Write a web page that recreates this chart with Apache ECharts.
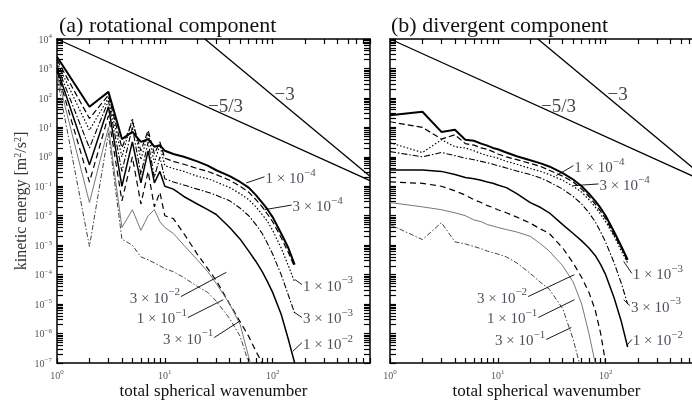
<!DOCTYPE html>
<html>
<head>
<meta charset="utf-8">
<script src="https://cdn.jsdelivr.net/npm/echarts@6/dist/echarts.min.js"></script>
<style>
html, body { margin: 0; padding: 0; background: #fff; }
#chart { width: 692px; height: 400px; }
</style>
</head>
<body>
<div id="chart"></div>
<script>
// total spherical wavenumber (shared grid for all curves)
var wavenumbers = [1, 2, 3, 4, 5, 6, 7, 8, 9, 10, 12, 15, 20, 25, 30, 40, 50, 60, 70, 80, 90, 100, 120, 140, 160];

// curve names
var curveNames = ['1e-4', '3e-4', '1e-3', '3e-3', '1e-2', '3e-2', '1e-1', '3e-1'];

// (a) rotational component, kinetic energy [m2/s2]
var rot1e4 = [2500, 50, 160, 4, 7, 3.2, 4, 2.2, 2.5, 1.6, 1.25, 1.0, 0.7, 0.5, 0.35, 0.22, 0.14, 0.09, 0.05, 0.028, 0.016, 0.009, 0.0025, 0.0008, 0.00022];
var rot3e4 = [2000, 20, 125, 2, 16, 1.6, 8, 1.25, 3.2, 0.9, 0.7, 0.56, 0.4, 0.32, 0.25, 0.16, 0.1, 0.063, 0.035, 0.02, 0.011, 0.0063, 0.0018, 0.00056, 0.00018];
var rot1e3 = [1600, 8, 100, 1, 20, 0.8, 6.3, 0.63, 2.5, 0.5, 0.4, 0.32, 0.22, 0.18, 0.14, 0.09, 0.056, 0.035, 0.02, 0.011, 0.0063, 0.0032, 0.0008, 0.0002, 0.000056];
var rot3e3 = [1250, 2, 80, 0.32, 10, 0.25, 3.2, 0.2, 1, 0.18, 0.14, 0.11, 0.08, 0.063, 0.05, 0.032, 0.018, 0.01, 0.005, 0.0025, 0.0011, 0.0005, 0.0001, 0.00002, 0.000005];
var rot1e2 = [1000, 0.54, 50, 0.1, 3.2, 0.13, 1.6, 0.13, 0.32, 0.1, 0.08, 0.045, 0.025, 0.016, 0.011, 0.004, 0.0016, 0.00063, 0.00028, 0.000126, 0.000056, 0.000025, 4.5e-6, 6.3e-7, 1e-7];
var rot3e2 = [800, 0.14, 25, 0.032, 1, 0.025, 0.32, 0.02, 0.063, 0.01, 0.008, 0.0025, 0.0005, 0.00016, 0.000063, 1e-5, 2.5e-6, 8e-7, 2.5e-7, 1e-7, 4e-8];
var rot1e1 = [630, 0.028, 10, 0.004, 0.016, 0.0032, 0.01, 0.016, 0.0063, 0.004, 0.0025, 0.001, 0.00032, 0.000126, 0.00005, 1e-5, 2e-6, 1.6e-7, 2.5e-8];
var rot3e1 = [500, 0.0009, 6.3, 0.0016, 0.001, 0.0004, 0.00032, 0.00025, 0.0002, 0.00016, 0.000126, 0.00008, 0.00004, 0.000025, 0.0000126, 3.2e-6, 8e-7, 1e-7, 1.6e-8];

// (b) divergent component, kinetic energy [m2/s2]
var div1e4 = [26, 34, 7, 8.3, 3.8, 3.5, 2.8, 2.4, 2, 1.8, 1.4, 1.05, 0.76, 0.6, 0.47, 0.28, 0.17, 0.1, 0.056, 0.032, 0.018, 0.01, 0.0028, 0.0009, 0.00032];
var div3e4 = [15.5, 10, 4, 5.6, 2.8, 2.5, 2, 1.8, 1.5, 1.25, 1, 0.8, 0.6, 0.47, 0.35, 0.22, 0.14, 0.08, 0.045, 0.025, 0.014, 0.008, 0.0022, 0.0008, 0.00028];
var div1e3 = [3, 1.4, 3.8, 2.2, 2, 1.6, 1.3, 1.1, 1, 0.9, 0.7, 0.56, 0.4, 0.32, 0.25, 0.16, 0.1, 0.063, 0.035, 0.02, 0.011, 0.0063, 0.002, 0.00063, 0.00025];
var div3e3 = [1.5, 1, 1.4, 1.1, 0.9, 0.8, 0.7, 0.63, 0.56, 0.5, 0.42, 0.33, 0.25, 0.19, 0.14, 0.08, 0.045, 0.025, 0.0126, 0.0063, 0.0028, 0.00126, 0.00025, 0.00005, 0.00001];
var div1e2 = [0.36, 0.36, 0.32, 0.25, 0.2, 0.18, 0.16, 0.14, 0.126, 0.11, 0.09, 0.056, 0.028, 0.019, 0.0126, 0.005, 0.0025, 0.0014, 0.0008, 0.00045, 0.00022, 0.0001, 1.6e-5, 2.5e-6, 3.5e-7];
var div3e2 = [0.14, 0.126, 0.1, 0.07, 0.05, 0.035, 0.028, 0.022, 0.019, 0.016, 0.0126, 0.009, 0.0056, 0.0035, 0.0025, 0.0008, 0.00025, 0.00008, 0.000025, 6.3e-6, 1e-6, 1e-7, 3e-9];
var div1e1 = [0.028, 0.02, 0.016, 0.0126, 0.01, 0.0072, 0.0063, 0.005, 0.0045, 0.004, 0.0034, 0.0028, 0.002, 0.0011, 0.00063, 0.0002, 0.000056, 1e-5, 1e-6, 1e-7, 1e-8];
var div3e1 = [0.005, 0.00155, 0.0058, 0.0013, 0.0011, 0.0009, 0.00076, 0.00063, 0.00056, 0.0005, 0.0004, 0.00025, 0.00011, 0.000054, 0.000032, 7e-6, 6.3e-7, 5e-8];

// reference slopes (same in both panels)
var slope53 = [[1, 10000], [800, 0.155]];
var slope3 = [[23.5, 10000], [800, 0.22]];

// tick labels
var xLabelValues = [1, 10, 100];
var yLabelValues = [1e-7, 1e-6, 1e-5, 1e-4, 1e-3, 1e-2, 1e-1, 1, 10, 100, 1000, 10000];

// annotation labels: mantissa, exponent, text side, leader line
var rotNotes = [
	{ m: '1', e: '−4', side: 'right', from: [57, 0.13], to: [84, 0.21] },
	{ m: '3', e: '−4', side: 'right', from: [84, 0.016], to: [150, 0.023] },
	{ m: '1', e: '−3', side: 'right', from: [161, 6.8e-5], to: [187, 4.6e-5] },
	{ m: '3', e: '−3', side: 'right', from: [161, 5.1e-6], to: [187, 3.5e-6] },
	{ m: '1', e: '−2', side: 'right', from: [154, 2.5e-7], to: [187, 4.9e-7] },
	{ m: '3', e: '−2', side: 'left', from: [37.2, 1.2e-4], to: [14.1, 1.8e-5] },
	{ m: '1', e: '−1', side: 'left', from: [34.8, 1.4e-5], to: [16.4, 3.5e-6] },
	{ m: '3', e: '−1', side: 'left', from: [49.2, 2.6e-6], to: [28.7, 7.3e-7] }
];
var divNotes = [
	{ m: '1', e: '−4', side: 'right', from: [34.8, 0.23], to: [50.2, 0.5] },
	{ m: '3', e: '−4', side: 'right', from: [50.2, 0.105], to: [86, 0.12] },
	{ m: '1', e: '−3', side: 'right', from: [147, 2.8e-4], to: [175, 1.1e-4] },
	{ m: '3', e: '−3', side: 'right', from: [147, 1.4e-5], to: [168, 8.9e-6] },
	{ m: '1', e: '−2', side: 'right', from: [157, 3.9e-7], to: [175, 6.3e-7] },
	{ m: '3', e: '−2', side: 'left', from: [51.3, 1e-4], to: [19.1, 1.8e-5] },
	{ m: '1', e: '−1', side: 'left', from: [51.3, 1.4e-5], to: [23.7, 3.5e-6] },
	{ m: '3', e: '−1', side: 'left', from: [48.1, 1.6e-6], to: [28.1, 6.3e-7] }
];
var slopeNotes = [
	{ text: '−5/3', at: [25.2, 49] },
	{ text: '−3', at: [104, 126] }
];

var SERIF = '"Liberation Serif", "DejaVu Serif", serif';

var curveStyles = [
	{ color: '#000', width: 2, type: 'solid' },
	{ color: '#000', width: 1.2, type: [6, 3] },
	{ color: '#000', width: 1.2, type: [1.5, 2] },
	{ color: '#000', width: 1.1, type: [6, 2, 1.5, 2] },
	{ color: '#000', width: 1.5, type: 'solid' },
	{ color: '#000', width: 1.2, type: [6, 4] },
	{ color: '#777', width: 1, type: 'solid' },
	{ color: '#444', width: 1, type: [5, 2, 1.5, 2] }
];

// tick positions 1..9 x 10^n
function decadeTicks(lo, hi, max) {
	var out = [];
	for (var e = lo; e <= hi; e++) {
		for (var d = 1; d <= 9; d++) {
			var v = d * Math.pow(10, e);
			if (v <= max * 1.0001) out.push(v);
		}
	}
	return out;
}
var xTickValues = decadeTicks(0, 2, 800);
var yTickValues = decadeTicks(-7, 4, 10000);

function powLabel(v) {
	var e = Math.round(Math.log10(v));
	return '{b|10}{s|' + (e < 0 ? '−' + (-e) : e) + '}';
}
var tickRich = {
	b: { fontFamily: SERIF, fontSize: 10, color: '#555', verticalAlign: 'bottom' },
	s: { fontFamily: SERIF, fontSize: 7, color: '#555', verticalAlign: 'bottom', padding: [0, 0, 5, 0] }
};
var noteRich = {
	t: { fontFamily: SERIF, fontSize: 15, color: '#223', verticalAlign: 'bottom' },
	s: { fontFamily: SERIF, fontSize: 11, color: '#223', verticalAlign: 'bottom', padding: [0, 0, 8, 0] }
};

function toPairs(vals) {
	return vals.map(function(v, i) { return [wavenumbers[i], v]; });
}

var grids = [
	{ left: 57, top: 39, width: 313, height: 324, outerBoundsMode: 'none' },
	{ left: 390, top: 39, width: 313, height: 324, outerBoundsMode: 'none' }
];

var xAxes = [], yAxes = [];
[0, 1].forEach(function(g) {
	['bottom', 'top'].forEach(function(pos) {
		xAxes.push({
			type: 'log', gridIndex: g, position: pos, min: 1, max: 800, logBase: 10,
			axisLine: { show: true, onZero: false, lineStyle: { color: '#000', width: 1.5 } },
			axisTick: { show: true, inside: true, length: 5, customValues: xTickValues, lineStyle: { color: '#000', width: 1.2 } },
			axisLabel: {
				show: pos === 'bottom', customValues: xLabelValues, margin: 6,
				formatter: powLabel, rich: tickRich
			},
			splitLine: { show: false },
			name: pos === 'bottom' ? 'total spherical wavenumber' : '',
			nameLocation: 'middle', nameGap: 20, nameMoveOverlap: false,
			nameTextStyle: { fontFamily: SERIF, fontSize: 17, color: '#111' }
		});
	});
	['left', 'right'].forEach(function(pos) {
		yAxes.push({
			type: 'log', gridIndex: g, position: pos, min: 1e-7, max: 1e4, logBase: 10,
			axisLine: { show: true, onZero: false, lineStyle: { color: '#000', width: 1.5 } },
			axisTick: { show: true, inside: true, length: 6, customValues: yTickValues, lineStyle: { color: '#000', width: 1.2 } },
			axisLabel: {
				show: pos === 'left' && g === 0, customValues: yLabelValues, margin: 5,
				formatter: powLabel, rich: tickRich
			},
			splitLine: { show: false },
			name: (pos === 'left' && g === 0) ? 'kinetic energy [m{s|2}/s{s|2}]' : '',
			nameLocation: 'middle', nameGap: 27, nameRotate: 90, nameMoveOverlap: false,
			nameTextStyle: {
				fontFamily: SERIF, fontSize: 16, color: '#333',
				rich: { s: { fontFamily: SERIF, fontSize: 10, color: '#333', verticalAlign: 'bottom', padding: [0, 0, 7, 0] } }
			}
		});
	});
});

var series = [];
function addPanel(g, curves, notes) {
	var xi = g * 2, yi = g * 2;
	curves.forEach(function(vals, i) {
		var st = curveStyles[i];
		series.push({
			name: curveNames[i], type: 'line', xAxisIndex: xi, yAxisIndex: yi,
			data: toPairs(vals), symbol: 'none', silent: true, clip: true,
			lineStyle: { color: st.color, width: st.width, type: st.type }
		});
	});
	[slope53, slope3].forEach(function(s) {
		series.push({
			type: 'line', xAxisIndex: xi, yAxisIndex: yi, data: s, symbol: 'none', silent: true,
			lineStyle: { color: '#000', width: 1.3 }
		});
	});
	notes.forEach(function(n) {
		series.push({
			type: 'line', xAxisIndex: xi, yAxisIndex: yi, data: [n.from, n.to], symbol: 'none', silent: true,
			lineStyle: { color: '#000', width: 0.9 }
		});
	});
	series.push({
		type: 'scatter', xAxisIndex: xi, yAxisIndex: yi, symbolSize: 0, silent: true,
		data: notes.map(function(n) {
			return {
				value: n.to,
				label: {
					show: true, position: n.side, distance: 1,
					formatter: '{t|' + n.m + ' × 10}{s|' + n.e + '}', rich: noteRich
				}
			};
		}).concat(slopeNotes.map(function(n) {
			return {
				value: n.at,
				label: {
					show: true, position: 'right', distance: 0, formatter: n.text,
					fontFamily: SERIF, fontSize: 19, color: '#111'
				}
			};
		}))
	});
}
addPanel(0, [rot1e4, rot3e4, rot1e3, rot3e3, rot1e2, rot3e2, rot1e1, rot3e1], rotNotes);
addPanel(1, [div1e4, div3e4, div1e3, div3e3, div1e2, div3e2, div1e1, div3e1], divNotes);

var chart = echarts.init(document.getElementById('chart'), null, { renderer: 'canvas' });
chart.setOption({
	backgroundColor: '#fff',
	animation: false,
	title: [
		{ text: '(a) rotational component', left: 54, top: 10, textStyle: { fontFamily: SERIF, fontSize: 22, fontWeight: 'normal', color: '#111' } },
		{ text: '(b) divergent component', left: 386, top: 10, textStyle: { fontFamily: SERIF, fontSize: 22, fontWeight: 'normal', color: '#111' } }
	],
	grid: grids,
	xAxis: xAxes,
	yAxis: yAxes,
	series: series
});
</script>
</body>
</html>
